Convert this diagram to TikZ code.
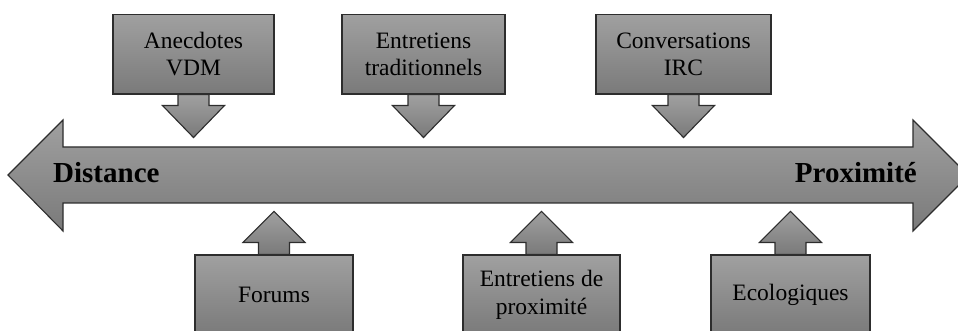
\documentclass[tikz,border=0pt]{standalone}
\usepackage{fontspec}
\setmainfont{Liberation Serif}
\definecolor{grisclair}{RGB}{160,160,160}
\definecolor{grisfonce}{RGB}{122,122,122}
\definecolor{trait}{RGB}{45,45,45}
\tikzset{
  bloc/.style={draw=trait, line width=1.1pt, top color=grisclair, bottom color=grisfonce},
  boite/.style={bloc, rectangle, minimum height=79.5pt, inner sep=0pt, align=center,
    font=\fontsize{23.5}{27.5}\selectfont},
  pole/.style={inner sep=0pt, font=\fontsize{29}{32}\selectfont\bfseries}
}
\begin{document}
\begin{tikzpicture}[x=1pt, y=-1pt, line join=miter]
					\useasboundingbox (0,0) rectangle (958,331);
					\clip (0,0) rectangle (958,331);
					%%%%%%%%%%%%%%%%%%%%%%%%%%%%%%%%%
					\coordinate (G) at (8,175);
					\coordinate (G1) at (63,120);
					\coordinate (G2) at (63,147);
					\coordinate (D2) at (913,147);
					\coordinate (D1) at (913,120);
					\coordinate (D) at (968.5,175.5);
					\coordinate (D3) at (913,231);
					\coordinate (D4) at (913,203);
					\coordinate (G4) at (63,203);
					\coordinate (G3) at (63,231);
					%%%%%%%%%%%%%%%%%%%%%%%%%%%%%%%%%
					\draw[bloc] (G) -- (G1) -- (G2) -- (D2) -- (D1) -- (D) -- (D3) -- (D4) -- (G4) -- (G3) -- cycle;
					\node[pole, anchor=base west] (dist) at (53,183) {Distance};
					\node[pole, anchor=base east] (prox) at (917,183) {Proximité};
					%%%%%%%%%%%%%%%%%%%%%%%%%%%%%%%%%
					\node[boite, minimum width=161pt] (vdm) at (193.5,54.25) {Anecdotes\\VDM};
					\node[boite, minimum width=163pt] (trad) at (423.5,54.25) {Entretiens\\traditionnels};
					\node[boite, minimum width=175pt] (irc) at (683.5,54.25) {Conversations\\IRC};
					\node[boite, minimum width=158pt] (forum) at (274,294.75) {Forums};
					\node[boite, minimum width=157pt] (prox2) at (541.5,294.75) {Entretiens de\\proximité};
					\node[boite, minimum width=159pt] (eco) at (790.5,294.75) {Ecologiques};
					%%%%%%%%%%%%%%%%%%%%%%%%%%%%%%%%%
					\foreach \b in {vdm,trad,irc}
						\draw[bloc] (\b.south) ++(-15.5,0) -- ++(0,11) -- ++(-15.5,0) -- ++(31,32) -- ++(31,-32) -- ++(-15.5,0) -- ++(0,-11) -- cycle;
					\foreach \b in {forum,prox2,eco}
						\draw[bloc] (\b.north) ++(-15.5,0) -- ++(0,-12) -- ++(-15.5,0) -- ++(31,-31) -- ++(31,31) -- ++(-15.5,0) -- ++(0,12) -- cycle;
					%%%%%%%%%%%%%%%%%%%%%%%%%%%%%%%%%
\end{tikzpicture}
\end{document}
